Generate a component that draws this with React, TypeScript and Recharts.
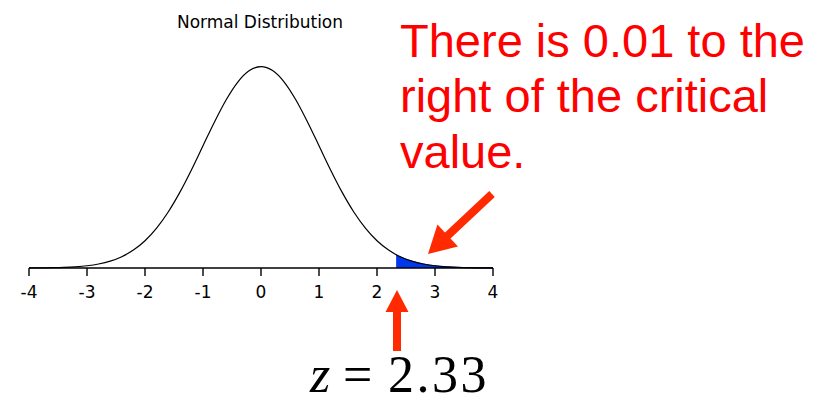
import React from "react";
import { ComposedChart, Line, Area, XAxis, YAxis } from "recharts";

// z positions and the density
const zValues = [
  -4, -3.8, -3.6, -3.4, -3.2, -3, -2.8, -2.6, -2.4, -2.2, -2, -1.8, -1.6, -1.4,
  -1.2, -1, -0.8, -0.6, -0.4, -0.2, 0, 0.2, 0.4, 0.6, 0.8, 1, 1.2, 1.4, 1.6,
  1.8, 2, 2.2, 2.33, 2.4, 2.6, 2.8, 3, 3.2, 3.4, 3.6, 3.8, 4,
];
const densityValues = [
  0.0001, 0.0003, 0.0006, 0.0012, 0.0024, 0.0044, 0.0079, 0.0136, 0.0224,
  0.0355, 0.054, 0.079, 0.1109, 0.1497, 0.1942, 0.242, 0.2897, 0.3332, 0.3683,
  0.391, 0.3989, 0.391, 0.3683, 0.3332, 0.2897, 0.242, 0.1942, 0.1497, 0.1109,
  0.079, 0.054, 0.0355, 0.0264, 0.0224, 0.0136, 0.0079, 0.0044, 0.0024, 0.0012,
  0.0006, 0.0003, 0.0001,
];
const xTicks = [-4, -3, -2, -1, 0, 1, 2, 3, 4];
const criticalValue = 2.33;
const tailArea = 0.01;

const rows = zValues.map((z, i) => ({
  z,
  density: densityValues[i],
  tail: z >= criticalValue ? densityValues[i] : null,
}));

const arrowColor = "#ff2a00";

function Arrow({ x1, y1, x2, y2, head, width, shaft }) {
  const dx = x2 - x1;
  const dy = y2 - y1;
  const len = Math.sqrt(dx * dx + dy * dy);
  const ux = dx / len;
  const uy = dy / len;
  const bx = x2 - ux * head;
  const by = y2 - uy * head;
  const px = -uy * (width / 2);
  const py = ux * (width / 2);
  return (
    <g>
      <line x1={x1} y1={y1} x2={bx + ux} y2={by + uy} stroke={arrowColor} strokeWidth={shaft} />
      <polygon
        points={`${x2},${y2} ${bx + px},${by + py} ${bx - px},${by - py}`}
        fill={arrowColor}
      />
    </g>
  );
}

export default function App() {
  return (
    <div style={{ position: "absolute", left: 0, top: 0, width: 817, height: 403, background: "#fff" }}>
      <ComposedChart
        width={817}
        height={403}
        data={rows}
        margin={{ top: 66, right: 324, left: 29, bottom: 105 }}
      >
        <XAxis
          dataKey="z"
          type="number"
          domain={[-4, 4]}
          ticks={xTicks}
          tickSize={8}
          tickMargin={10}
          stroke="#000"
          fontSize={17}
          fontFamily="DejaVu Sans"
          tick={{ fill: "#000", fontSize: 17, fontFamily: "DejaVu Sans" }}
          axisLine={{ stroke: "#000", strokeWidth: 1.4 }}
          tickLine={{ stroke: "#000", strokeWidth: 1.4 }}
        />
        <YAxis hide domain={[0, 0.4]} />
        <Area
          dataKey="tail"
          type="monotone"
          fill="#0038ee"
          fillOpacity={1}
          stroke="#0038ee"
          strokeWidth={1}
          isAnimationActive={false}
          connectNulls={false}
        />
        <Line
          dataKey="density"
          type="monotone"
          stroke="#000"
          strokeWidth={1.2}
          dot={false}
          isAnimationActive={false}
        />
      </ComposedChart>
      <svg
        width={817}
        height={403}
        style={{ position: "absolute", left: 0, top: 0, pointerEvents: "none" }}
      >
        <text x={260} y={28} textAnchor="middle" fontFamily="DejaVu Sans" fontSize={17} fill="#000">
          Normal Distribution
        </text>
        <g fontFamily="Liberation Sans" fontSize={47} fill="#ff0000">
          <text x={400} y={57}>{`There is ${tailArea} to the`}</text>
          <text x={400} y={112}>right of the critical</text>
          <text x={400} y={168}>value.</text>
        </g>
        <Arrow x1={492} y1={194} x2={428} y2={254} head={27} width={30} shaft={8} />
        <Arrow x1={397} y1={351} x2={397} y2={290} head={22} width={23} shaft={8} />
        <g fontFamily="Liberation Serif" fontSize={52} fill="#000">
          <text x={310} y={392} fontStyle="italic">z</text>
          <text x={343} y={392}>=</text>
          <text x={388} y={392} letterSpacing={2.5}>{criticalValue.toFixed(2)}</text>
        </g>
      </svg>
    </div>
  );
}
